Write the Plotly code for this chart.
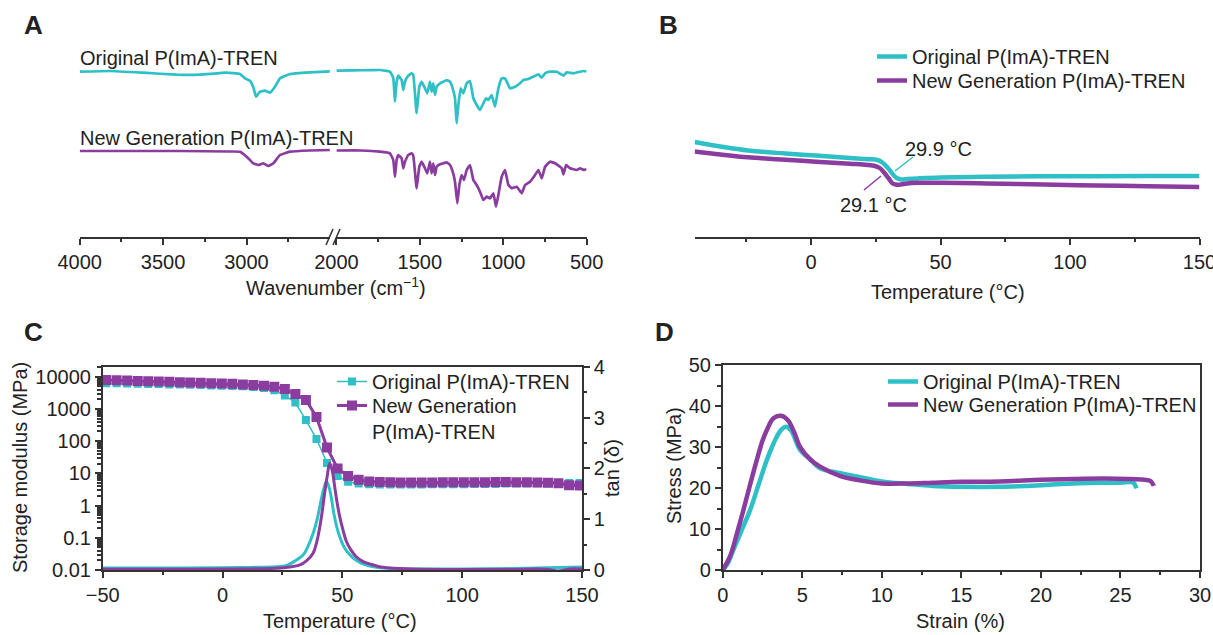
import plotly.graph_objects as go

W, H = 1213, 635
def px(x): return x / W
def py(y): return 1 - y / H

CYAN = "#2EC0C6"
PURPLE = "#8B3D9F"
AX = "#333333"
TXT = "#222222"
FONT = "Liberation Sans"
FS = 20

# ---------------- Panel A: FTIR (transmittance, a.u.) ----------------
ir_wn_orig = [4000, 3818, 3619, 3419, 3279, 3119, 3039, 3009, 2979, 2959, 2943, 2919, 2889, 2859,
              2829, 2799, 2739, 2619, 2500,
              2000, 1900, 1800, 1739, 1679, 1659, 1649, 1639, 1629, 1609, 1599, 1589, 1569, 1549,
              1539, 1519, 1503, 1489, 1469, 1455, 1439, 1429, 1419, 1409, 1399, 1379, 1359, 1339,
              1319, 1303, 1289, 1279, 1269, 1255, 1239, 1219, 1199, 1179, 1159, 1139, 1119, 1103,
              1089, 1069, 1049, 1029, 1009, 989, 959, 929, 899, 879, 849, 819, 789, 769, 749, 719,
              679, 639, 619, 579, 539, 519, 500]
ir_orig = [4.83, 4.90, 4.73, 4.53, 4.53, 4.73, 4.60, 4.17, 3.93, 3.27, 2.33, 2.83, 2.93, 2.73,
           3.33, 4.17, 4.60, 4.77, 4.87,
           4.93, 4.97, 4.98, 5.00, 4.83, 4.20, 1.83, 3.83, 4.43, 4.00, 3.00, 3.83, 4.43, 4.67,
           4.50, 0.67, 3.33, 3.83, 3.17, 2.67, 3.83, 2.83, 3.67, 2.50, 3.33, 3.67, 3.83, 4.00,
           3.83, 3.17, 2.17, -0.33, 1.50, 3.17, 2.67, 3.67, 3.90, 2.17, 1.50, 1.00, 1.67, 2.17,
           2.00, 2.50, 1.33, 3.17, 4.17, 4.17, 3.17, 3.33, 3.67, 4.00, 4.10, 4.33, 4.57, 4.23,
           4.67, 4.83, 4.83, 4.43, 4.77, 4.67, 4.83, 4.90, 4.85]

ir_wn_new = [4000, 3700, 3400, 3100, 3039, 2999, 2959, 2929, 2899, 2869, 2839, 2799, 2739, 2620,
             2500,
             2000, 1850, 1739, 1679, 1659, 1649, 1639, 1629, 1609, 1599, 1589, 1569, 1549, 1539,
             1519, 1503, 1489, 1469, 1455, 1439, 1429, 1419, 1409, 1399, 1379, 1359, 1339, 1319,
             1303, 1289, 1275, 1263, 1249, 1235, 1219, 1199, 1179, 1159, 1139, 1119, 1099, 1079,
             1059, 1043, 1029, 1009, 989, 969, 949, 919, 889, 869, 839, 809, 789, 769, 749, 719,
             689, 649, 639, 623, 599, 559, 539, 515, 500]
ir_new = [5.90, 5.90, 5.90, 5.85, 5.83, 5.33, 4.67, 4.50, 4.67, 4.40, 4.67, 5.50, 5.83, 5.95,
          6.00,
          5.95, 5.95, 5.83, 5.67, 5.00, 3.33, 5.00, 5.50, 5.17, 4.17, 4.83, 5.50, 5.67, 5.43,
          2.17, 4.33, 4.83, 4.17, 3.67, 4.83, 3.67, 4.67, 3.50, 4.33, 4.57, 4.67, 4.77, 4.50,
          3.83, 2.83, 0.67, 2.50, 3.50, 3.00, 4.00, 4.50, 3.00, 2.50, 1.83, 1.00, 1.33, 1.17,
          1.67, 0.33, 1.50, 3.33, 4.00, 2.50, 2.17, 2.33, 1.67, 2.50, 2.83, 3.50, 4.00, 3.17,
          4.33, 4.83, 4.67, 4.17, 3.57, 4.50, 4.17, 4.00, 4.17, 4.00, 4.10]

OFFSET_ORIG = 12.0
OFFSET_NEW = 3.0

# ---------------- Panel B: DSC (heat flow, a.u.) ----------------
dsc_t_orig = [-45, -35, -24.4, -10, 1.9, 15, 22, 25.6, 27.5, 29.5, 31.2, 32.8, 34.7, 37, 41.3,
              50, 67.6, 100, 130, 150]
dsc_orig = [4.80, 4.35, 3.95, 3.65, 3.44, 3.20, 3.08, 3.00, 2.75, 2.25, 1.70, 1.23, 1.06, 1.10,
            1.16, 1.25, 1.33, 1.38, 1.40, 1.40]
dsc_t_new = [-45, -35, -24.4, -10, 1.9, 15, 20, 24.3, 26.5, 28.2, 30, 31.5, 33, 34.7, 37, 41.3,
             50, 67.6, 90, 110, 130, 150]
dsc_new = [3.85, 3.55, 3.27, 3.02, 2.83, 2.62, 2.55, 2.42, 2.20, 1.74, 1.15, 0.65, 0.52, 0.55,
           0.65, 0.72, 0.72, 0.65, 0.55, 0.45, 0.38, 0.31]

# ---------------- Panel C: DMA ----------------
dma_t = [-48.6, -44.2, -39.8, -35.4, -31.0, -26.6, -22.2, -17.8, -13.5, -9.1, -4.7, -0.3, 4.1,
         8.5, 12.9, 17.3, 21.6, 26.0, 30.4, 34.8, 39.2, 43.6, 48.0, 52.4, 56.8, 61.2, 65.6,
         70.0, 74.3, 78.7, 83.1, 87.5, 91.9, 96.3, 100.7, 105.1, 109.5, 113.9, 118.2, 122.6,
         127.0, 131.4, 135.8, 140.2, 144.6, 149.0]
mod_orig = [6310, 6240, 6170, 6030, 5960, 5890, 5750, 5690, 5620, 5500, 5370, 5250, 5130, 5010,
            4790, 4470, 3800, 2630, 1580, 450, 117, 21, 8.3, 5.5, 4.8, 4.6, 4.5, 4.5, 4.5, 4.5,
            4.5, 4.6, 4.6, 4.6, 4.6, 4.7, 4.7, 4.7, 4.8, 4.8, 4.8, 4.9, 4.9, 5.0, 5.0, 5.0]
mod_new = [7940, 7760, 7590, 7410, 7240, 7080, 6920, 6760, 6610, 6460, 6310, 6170, 6030, 5750,
           5500, 5250, 4900, 4170, 2880, 1900, 560, 63, 14.1, 8.3, 6.3, 5.6, 5.4, 5.3, 5.2, 5.2,
           5.2, 5.2, 5.3, 5.3, 5.3, 5.3, 5.3, 5.4, 5.4, 5.3, 5.3, 5.2, 5.1, 4.9, 4.3, 4.2]

tan_t_orig = [-50, -25, 0, 10, 20, 24, 26.8, 30, 33.7, 35.5, 37.8, 39.5, 40.6, 42, 43.3, 44.5,
              45.4, 46.5, 47.5, 48.8, 50.3, 52, 54, 55.8, 58, 61.4, 65, 70, 80, 100, 120, 140, 150]
tan_orig = [0.04, 0.04, 0.045, 0.05, 0.06, 0.07, 0.09, 0.17, 0.30, 0.45, 0.72, 1.00, 1.25, 1.55,
            1.74, 1.62, 1.42, 1.10, 0.88, 0.67, 0.49, 0.36, 0.26, 0.19, 0.13, 0.08, 0.05, 0.03,
            0.02, 0.02, 0.03, 0.05, 0.06]
tan_t_new = [-50, -25, 0, 20, 28, 32.3, 35, 37.8, 39.3, 40.6, 41.6, 42.6, 43.7, 44.7, 45.8, 46.8,
             47.8, 48.9, 50.3, 51.7, 53.5, 55.8, 58.5, 61.4, 65, 70, 80, 100, 120, 135, 140, 145, 150]
tan_new = [0.015, 0.015, 0.02, 0.03, 0.06, 0.10, 0.18, 0.33, 0.55, 0.85, 1.15, 1.51, 1.85, 2.10,
           1.95, 1.64, 1.33, 1.05, 0.78, 0.56, 0.40, 0.26, 0.17, 0.12, 0.07, 0.04, 0.02, 0.01,
           0.01, 0.015, -0.02, 0.02, 0.02]

# ---------------- Panel D: tensile ----------------
strain_orig = [0, 0.3, 0.67, 1.2, 1.72, 2.25, 2.77, 3.1, 3.4, 3.7, 3.98, 4.3, 4.86, 5.5, 6.12,
               7.4, 8.7, 10, 11.6, 13.2, 15, 17.4, 19, 20.5, 22, 23.7, 25, 25.8, 26.0]
stress_orig = [0, 1.5, 4.9, 9.8, 14.6, 20.8, 26.8, 30.0, 32.5, 34.3, 34.96, 34.0, 29.3, 27.0,
               24.8, 23.6, 22.6, 21.6, 21.0, 20.5, 20.3, 20.3, 20.5, 20.8, 21.1, 21.3, 21.3, 21.3, 19.9]
strain_new = [0, 0.46, 0.9, 1.3, 1.7, 2.14, 2.5, 2.77, 3.19, 3.67, 4.1, 4.5, 4.86, 5.5, 6.12,
              7.4, 8.7, 10, 11.6, 13.2, 15, 17.4, 20, 22, 24, 25.5, 26.5, 26.9, 27.1]
stress_new = [0, 3.3, 9.0, 14.6, 20.5, 26.8, 31.5, 34.1, 37.0, 37.6, 36.5, 33.5, 30.0, 27.0, 25.2,
              22.9, 21.8, 21.1, 21.1, 21.3, 21.5, 21.6, 22.0, 22.2, 22.3, 22.2, 22.0, 21.7, 20.5]

NAME_ORIG = "Original P(ImA)-TREN"
NAME_NEW = "New Generation P(ImA)-TREN"

fig = go.Figure()

# ---- A traces (split at axis break) ----
def split(wn, vals, off, lo):
    xs, ys = [], []
    for w, v in zip(wn, vals):
        if (w >= 2500) if lo else (w <= 2000):
            xs.append(w); ys.append(v + off)
    return xs, ys

for wn, vals, off, col in [(ir_wn_orig, ir_orig, OFFSET_ORIG, CYAN), (ir_wn_new, ir_new, OFFSET_NEW, PURPLE)]:
    for lo, xa in [(True, "x"), (False, "x2")]:
        xs, ys = split(wn, vals, off, lo)
        fig.add_trace(go.Scatter(x=xs, y=ys, xaxis=xa, yaxis="y", mode="lines",
                                 line=dict(color=col, width=2.7, shape="spline", smoothing=0.3),
                                 showlegend=False, hoverinfo="skip"))

# ---- B traces ----
fig.add_trace(go.Scatter(x=dsc_t_orig, y=dsc_orig, xaxis="x3", yaxis="y3", mode="lines", name=NAME_ORIG,
                         line=dict(color=CYAN, width=4.5, shape="spline"), legend="legend2"))
fig.add_trace(go.Scatter(x=dsc_t_new, y=dsc_new, xaxis="x3", yaxis="y3", mode="lines", name=NAME_NEW,
                         line=dict(color=PURPLE, width=4.5, shape="spline"), legend="legend5"))

# ---- C traces ----
fig.add_trace(go.Scatter(x=tan_t_orig, y=tan_orig, xaxis="x4", yaxis="y5", mode="lines",
                         line=dict(color=CYAN, width=3, shape="spline"), showlegend=False))
fig.add_trace(go.Scatter(x=tan_t_new, y=tan_new, xaxis="x4", yaxis="y5", mode="lines",
                         line=dict(color=PURPLE, width=3, shape="spline"), showlegend=False))
fig.add_trace(go.Scatter(x=dma_t, y=mod_orig, xaxis="x4", yaxis="y4", mode="lines+markers", name=NAME_ORIG,
                         line=dict(color=CYAN, width=1.5), marker=dict(symbol="square", size=8, color=CYAN),
                         legend="legend3"))
fig.add_trace(go.Scatter(x=dma_t, y=mod_new, xaxis="x4", yaxis="y4", mode="lines+markers",
                         name="New Generation<br>P(ImA)-TREN",
                         line=dict(color=PURPLE, width=3), marker=dict(symbol="square", size=10, color=PURPLE),
                         legend="legend7"))

# ---- D traces ----
fig.add_trace(go.Scatter(x=strain_orig, y=stress_orig, xaxis="x5", yaxis="y6", mode="lines", name=NAME_ORIG,
                         line=dict(color=CYAN, width=4.5, shape="spline"), legend="legend4"))
fig.add_trace(go.Scatter(x=strain_new, y=stress_new, xaxis="x5", yaxis="y6", mode="lines", name=NAME_NEW,
                         line=dict(color=PURPLE, width=4.5, shape="spline"), legend="legend6"))

tickfont = dict(family=FONT, size=FS, color=TXT)
base = dict(showline=True, linecolor=AX, linewidth=1.5, ticks="outside", ticklen=6, tickwidth=1.5,
            tickcolor=AX, tickfont=tickfont, showgrid=False, zeroline=False, fixedrange=True,
            automargin=False, ticklabeloverflow="allow")
def minor(vals=None, dtick=None):
    d = dict(ticks="outside", ticklen=3.5, tickwidth=1.5, tickcolor=AX, showgrid=False)
    if vals is not None:
        d["tickvals"] = vals
    if dtick is not None:
        d["dtick"] = dtick
    return d

log_minor = [m * 10 ** e for e in range(-2, 5) for m in range(2, 10)]
leg = dict(bgcolor="rgba(0,0,0,0)", font=dict(family=FONT, size=FS, color=TXT),
           xanchor="left", yanchor="top", tracegroupgap=0, itemclick=False, itemdoubleclick=False,
           valign="top")
hidden = dict(visible=False, fixedrange=True, automargin=False, showgrid=False, zeroline=False)

fig.update_layout(
    width=W, height=H, margin=dict(l=0, r=0, t=0, b=0, autoexpand=False),
    paper_bgcolor="white", plot_bgcolor="white",
    font=dict(family=FONT, size=FS, color=TXT),
    xaxis=dict(base, domain=[px(79.7), px(329.9)], range=[4000, 2500], anchor="y",
               tickvals=[4000, 3500, 3000], minor=minor([3750, 3250, 2750])),
    xaxis2=dict(base, domain=[px(336.4), px(586.6)], range=[2000, 500], anchor="y",
                tickvals=[2000, 1500, 1000, 500], minor=minor([1750, 1250, 750])),
    yaxis=dict(hidden, domain=[py(237), py(40)], range=[0.3, 20]),
    xaxis3=dict(base, domain=[px(694.6), px(1199.5)], range=[-45, 150], anchor="y3",
                tickvals=[0, 50, 100, 150], minor=minor([-25, 25, 75, 125])),
    yaxis3=dict(hidden, domain=[py(237), py(40)], range=[-4.7, 15], anchor="x3"),
    xaxis4=dict(base, domain=[px(102.7), px(582)], range=[-50, 150], anchor="y4", mirror=True,
                dtick=50, tick0=-50, minor=minor(dtick=25)),
    yaxis4=dict(base, domain=[py(570), py(366.7)], type="log", range=[-2, 4.31], anchor="x4",
                tickvals=[0.01, 0.1, 1, 10, 100, 1000, 10000],
                ticktext=["0.01", "0.1", "1", "10", "100", "1000", "10000"],
                minor=minor(log_minor)),
    yaxis5=dict(base, overlaying="y4", side="right", range=[0, 4], anchor="x4",
                dtick=1, minor=minor(dtick=0.5)),
    xaxis5=dict(base, domain=[px(722.7), px(1200)], range=[0, 30], anchor="y6", mirror=True,
                dtick=5, minor=minor(dtick=2.5)),
    yaxis6=dict(base, domain=[py(570), py(365)], range=[0, 50], anchor="x5", mirror=True,
                dtick=10, minor=minor(dtick=5)),
    legend2=dict(leg, x=px(872), y=py(37)),
    legend5=dict(leg, x=px(872), y=py(61)),
    legend3=dict(leg, x=px(332), y=py(362)),
    legend7=dict(leg, x=px(332), y=py(386)),
    legend4=dict(leg, x=px(883), y=py(362)),
    legend6=dict(leg, x=px(883), y=py(385)),
    showlegend=True,
)

ann = []
def label(text, x, y, size=FS, bold=False, angle=0, xanchor="center", color=TXT):
    ann.append(dict(text=f"<b>{text}</b>" if bold else text, x=px(x), y=py(y), xref="paper", yref="paper",
                    showarrow=False, xanchor=xanchor, yanchor="middle", textangle=angle,
                    font=dict(family=FONT, size=size, color=color)))

for t, x, y in [("A", 33, 25), ("B", 668, 25), ("C", 33, 332), ("D", 664, 332)]:
    label(t, x, y, size=26, bold=True)
label(NAME_ORIG, 78, 58, xanchor="left")
label(NAME_NEW, 78, 138, xanchor="left")
label("Wavenumber (cm<sup>−1</sup>)", 336, 287)
label("Temperature (°C)", 948, 292)
label("29.9 °C", 938, 149)
label("29.1 °C", 873, 205)
label("Temperature (°C)", 340, 621)
label("Storage modulus (MPa)", 20, 468, angle=-90)
label("tan (δ)", 612, 468, angle=-90)
label("Strain (%)", 960, 621)
label("Stress (MPa)", 674, 466, angle=-90)

shapes = [
    # axis-break marks in panel A
    dict(type="line", xref="paper", yref="paper", x0=px(326), y0=py(245), x1=px(333), y1=py(229),
         line=dict(color=AX, width=1.5)),
    dict(type="line", xref="paper", yref="paper", x0=px(333), y0=py(245), x1=px(340), y1=py(229),
         line=dict(color=AX, width=1.5)),
    # leader lines for DSC annotations
    dict(type="line", xref="paper", yref="paper", x0=px(895), y0=py(171), x1=px(913), y1=py(157),
         line=dict(color=CYAN, width=1.5)),
    dict(type="line", xref="paper", yref="paper", x0=px(864), y0=py(190), x1=px(881), y1=py(176),
         line=dict(color=PURPLE, width=1.5)),
]
fig.update_layout(annotations=ann, shapes=shapes)

fig.write_html("out.html", config={"displayModeBar": False},
               post_script="document.body.style.margin='0';document.body.style.overflow='hidden';")
